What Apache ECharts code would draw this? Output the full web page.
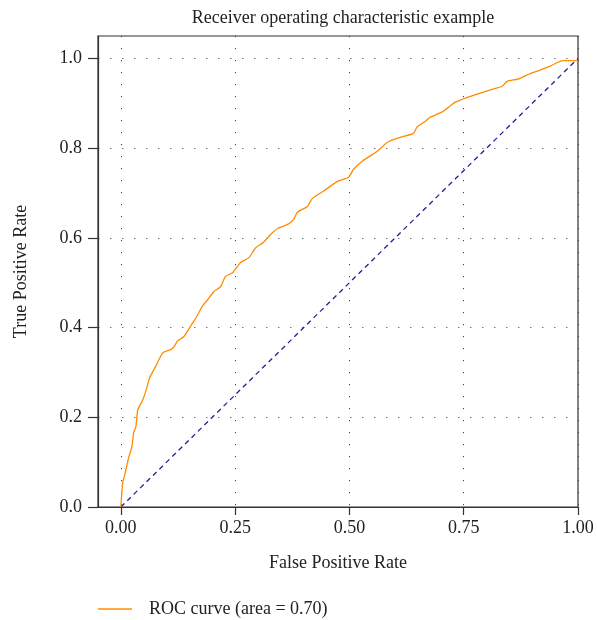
<!DOCTYPE html>
<html>
<head>
<meta charset="utf-8">
<script src="https://cdn.jsdelivr.net/npm/echarts@6/dist/echarts.min.js"></script>
<style>html,body{margin:0;padding:0;background:#fff}#c{width:597px;height:620px}</style>
</head>
<body>
<div id="c"></div>
<script>
const fpr = [0, 0.002, 0.004, 0.008, 0.011, 0.017, 0.024, 0.028, 0.033, 0.035, 0.037, 0.048, 0.055, 0.063, 0.076, 0.092, 0.109, 0.116, 0.124, 0.138, 0.153, 0.162, 0.17, 0.179, 0.19, 0.203, 0.218, 0.229, 0.245, 0.262, 0.28, 0.295, 0.312, 0.328, 0.343, 0.365, 0.378, 0.386, 0.408, 0.419, 0.443, 0.474, 0.498, 0.509, 0.528, 0.561, 0.583, 0.611, 0.64, 0.648, 0.666, 0.677, 0.705, 0.731, 0.758, 0.793, 0.812, 0.834, 0.845, 0.869, 0.888, 0.917, 0.939, 0.967, 0.983, 1.0];
const tpr = [0, 0.03, 0.054, 0.07, 0.083, 0.11, 0.134, 0.165, 0.18, 0.2, 0.217, 0.239, 0.26, 0.288, 0.313, 0.344, 0.351, 0.357, 0.37, 0.38, 0.404, 0.418, 0.432, 0.449, 0.462, 0.48, 0.491, 0.514, 0.523, 0.545, 0.556, 0.578, 0.59, 0.608, 0.621, 0.63, 0.641, 0.657, 0.67, 0.688, 0.704, 0.726, 0.735, 0.753, 0.771, 0.793, 0.813, 0.824, 0.833, 0.847, 0.86, 0.869, 0.882, 0.902, 0.913, 0.925, 0.931, 0.938, 0.949, 0.954, 0.963, 0.974, 0.983, 0.995, 0.995, 0.995];
const chanceX = [0, 1];
const chanceY = [0, 1];
const xTicks = [0, 0.25, 0.5, 0.75, 1.0];
const yTicks = [0, 0.2, 0.4, 0.6, 0.8, 1.0];
const titleText = 'Receiver operating characteristic example';
const seriesName = 'ROC curve (area = 0.70)';

const font = 'Liberation Serif';
const chart = echarts.init(document.getElementById('c'));
chart.setOption({
  animation: false,
  backgroundColor: '#fff',
  title: {
    text: titleText, left: 338, top: 4, textAlign: 'center',
    textStyle: {fontFamily: font, fontSize: 18, fontWeight: 'normal', color: '#222'}
  },
  legend: {
    data: [seriesName], left: 93, top: 595, itemWidth: 34, itemHeight: 1.5, icon: 'rect',
    textStyle: {fontFamily: font, fontSize: 18, color: '#222', padding: [0, 0, 0, 12]}
  },
  grid: {left: 98, right: 19, top: 36, bottom: 113, show: true, borderColor: '#333', borderWidth: 1.2, containLabel: false},
  xAxis: {
    type: 'value', min: -0.05, max: 1.0,
    name: 'False Positive Rate', nameLocation: 'middle', nameGap: 47,
    nameTextStyle: {fontFamily: font, fontSize: 18, color: '#222'},
    axisLine: {show: true, onZero: false, lineStyle: {color: '#333', width: 1.2}},
    axisTick: {show: true, length: 8, inside: false, customValues: xTicks, lineStyle: {color: '#333', width: 1.2}},
    axisLabel: {customValues: xTicks, margin: 12, fontFamily: font, fontSize: 18, color: '#222', formatter: v => v.toFixed(2)},
    splitLine: {show: true, lineStyle: {color: '#444', type: [1.2, 10.8], width: 1}}
  },
  yAxis: {
    type: 'value', min: 0, max: 1.05,
    name: 'True Positive Rate', nameLocation: 'middle', nameGap: 68,
    nameTextStyle: {fontFamily: font, fontSize: 18, color: '#222'},
    axisLine: {show: true, onZero: false, lineStyle: {color: '#333', width: 1.2}},
    axisTick: {show: true, length: 10, customValues: yTicks, lineStyle: {color: '#333', width: 1.2}},
    axisLabel: {customValues: yTicks, margin: 16, fontFamily: font, fontSize: 18, color: '#222', formatter: v => v.toFixed(1)},
    splitLine: {show: true, lineStyle: {color: '#777', type: [1.5, 10.5], width: 1.2}}
  },
  series: [
    {
      name: seriesName, type: 'line', showSymbol: false, symbol: 'none', smooth: 0.2,
      data: fpr.map((x, i) => [x, tpr[i]]),
      lineStyle: {color: '#ff8c00', width: 1.3}, itemStyle: {color: '#ff8c00'}, z: 3
    },
    {
      name: 'chance', type: 'line', showSymbol: false, symbol: 'none',
      data: chanceX.map((x, i) => [x, chanceY[i]]),
      lineStyle: {color: '#22228f', width: 1.3, type: [5, 4]}, z: 2
    }
  ]
});
</script>
</body>
</html>
